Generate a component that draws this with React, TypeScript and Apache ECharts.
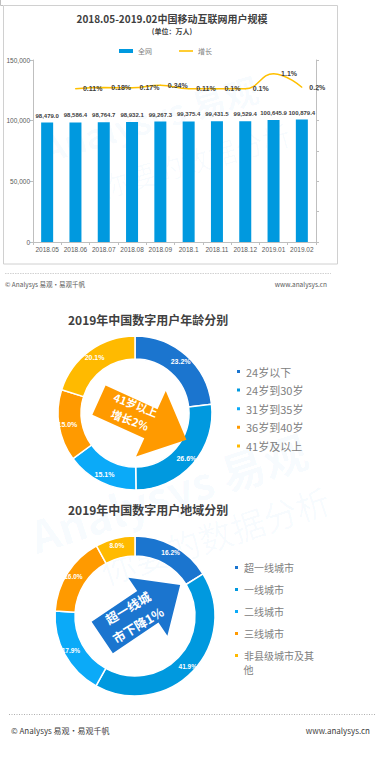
import React, { useEffect, useRef } from 'react';
import * as echarts from 'echarts';

const months = ['2018.05', '2018.06', '2018.07', '2018.08', '2018.09', '2018.1', '2018.11', '2018.12', '2019.01', '2019.02'];
const totalUsers = [98479.0, 98586.4, 98764.7, 98932.1, 99267.3, 99375.4, 99431.5, 99529.4, 100645.9, 100879.4];
const growthRate: (number | null)[] = [null, 0.11, 0.18, 0.17, 0.34, 0.11, 0.1, 0.1, 1.1, 0.2];

const ageGroups = ['24岁以下', '24岁到30岁', '31岁到35岁', '36岁到40岁', '41岁及以上'];
const ageShares = [23.2, 26.6, 15.1, 15.0, 20.1];

const regionGroups = ['超一线城市', '一线城市', '二线城市', '三线城市', '非县级城市及其他'];
const regionShares = [16.2, 41.9, 17.9, 16.0, 8.0];

const ringColors = ['#1B75CF', '#0099DF', '#0BAAF8', '#FF9A00', '#FFBA00'];
const FONT = '"Noto Sans CJK SC", "Microsoft YaHei", sans-serif';
const LATIN = '"Liberation Sans", Arial, sans-serif';
const deg = (d: number) => (d * Math.PI) / 180;

export default function App() {
  const ref = useRef<HTMLDivElement>(null);
  useEffect(() => {
    if (!ref.current) return;
    const chart = echarts.init(ref.current, undefined, { renderer: 'svg' });
    const pctFmt = (p: any) => Number(p.value).toFixed(1) + '%';
    const option: any = {
      animation: false,
      backgroundColor: '#ffffff',
      textStyle: { fontFamily: FONT },
      title: [
        {
          text: '2018.05-2019.02中国移动互联网用户规模',
          subtext: '(单位：万人)',
          left: 172, top: 12, padding: 0, itemGap: 3, textAlign: 'center',
          textStyle: { fontSize: 10, fontWeight: 'bold', color: '#404040', fontFamily: FONT, lineHeight: 12 },
          subtextStyle: { fontSize: 7, fontWeight: 'bold', color: '#404040', fontFamily: FONT, lineHeight: 8 },
        },
        {
          text: '2019年中国数字用户年龄分别', left: 68, top: 313, padding: 0,
          textStyle: { fontSize: 12, fontWeight: 'bold', color: '#404040', fontFamily: FONT },
        },
        {
          text: '2019年中国数字用户地域分别', left: 68, top: 503, padding: 0,
          textStyle: { fontSize: 12, fontWeight: 'bold', color: '#404040', fontFamily: FONT },
        },
      ],
      legend: [
        {
          data: [{ name: '全网', icon: 'rect' }, { name: '增长', icon: 'path://M0 0H14V1.6H0Z' }],
          left: 119, top: 47.5, padding: 0, itemWidth: 14, itemHeight: 4, itemGap: 27,
          textStyle: { fontSize: 7, color: '#7f7f7f' },
        },
        {
          data: ageGroups, orient: 'vertical', left: 235, top: 366, padding: 0,
          itemWidth: 5, itemHeight: 5, itemGap: 7.6, icon: 'rect',
          textStyle: { fontSize: 11, color: '#808080' },
        },
        {
          data: regionGroups, orient: 'vertical', left: 233, top: 562.5, padding: 0,
          itemWidth: 5, itemHeight: 5, itemGap: 12, icon: 'rect',
          formatter: (n: string) => (n === '非县级城市及其他' ? '非县级城市及其' : n),
          textStyle: { fontSize: 10, color: '#808080', lineHeight: 10 },
        },
      ],
      grid: { left: 33, right: 69, top: 60, height: 182, containLabel: false },
      xAxis: {
        type: 'category', data: months,
        axisLine: { lineStyle: { color: '#bfbfbf' } },
        axisTick: { show: true, length: 3, lineStyle: { color: '#bfbfbf' } },
        axisLabel: { interval: 0, fontSize: 6.5, color: '#595959', margin: 4, fontFamily: LATIN },
      },
      yAxis: [
        {
          type: 'value', min: 0, max: 150000, interval: 50000,
          axisLine: { show: true, lineStyle: { color: '#bfbfbf' } },
          axisTick: { show: true, length: 3, lineStyle: { color: '#bfbfbf' } },
          axisLabel: { fontSize: 6.5, color: '#595959', margin: 3, fontFamily: LATIN },
          splitLine: { show: false },
        },
        {
          type: 'value', min: -10, max: 2, interval: 2, position: 'right',
          axisLine: { show: true, lineStyle: { color: '#bfbfbf' } },
          axisTick: { show: true, length: 3, lineStyle: { color: '#bfbfbf' } },
          axisLabel: { show: false },
          splitLine: { show: false },
        },
      ],
      series: [
        {
          name: '全网', type: 'bar', data: totalUsers, barWidth: 12,
          itemStyle: { color: '#0099DF' },
          label: {
            show: true, position: 'top', distance: 4, fontSize: 6, color: '#404040', fontWeight: 'bold', fontFamily: LATIN,
            formatter: (p: any) => Number(p.value).toLocaleString('en-US', { minimumFractionDigits: 1, maximumFractionDigits: 1 }),
          },
          z: 3,
        },
        {
          name: '增长', type: 'line', yAxisIndex: 1, data: growthRate, smooth: 0.45,
          symbol: 'circle', symbolSize: 1, showSymbol: true,
          itemStyle: { color: '#FFC000' },
          lineStyle: { color: '#FFC000', width: 1.5 },
          label: {
            show: true, position: 'right', distance: 7, fontSize: 7, color: '#404040', fontWeight: 'bold', fontFamily: LATIN,
            formatter: (p: any) => p.value + '%',
          },
          z: 4,
        },
        {
          name: '年龄', type: 'pie', center: [135, 413], radius: [54, 77], startAngle: 90, clockwise: true,
          avoidLabelOverlap: false,
          data: ageGroups.map((n, i) => ({ name: n, value: ageShares[i], itemStyle: { color: ringColors[i] } })),
          itemStyle: { borderColor: '#ffffff', borderWidth: 1.5 },
          label: { show: true, position: 'inside', formatter: pctFmt, fontSize: 7, fontWeight: 'bold', color: '#ffffff', fontFamily: LATIN },
          labelLine: { show: false },
        },
        {
          name: '地域', type: 'pie', center: [135, 616], radius: [60, 80], startAngle: 90, clockwise: true,
          avoidLabelOverlap: false,
          data: regionGroups.map((n, i) => ({ name: n, value: regionShares[i], itemStyle: { color: ringColors[i] } })),
          itemStyle: { borderColor: '#ffffff', borderWidth: 1.5 },
          label: { show: true, position: 'inside', formatter: pctFmt, fontSize: 6.5, fontWeight: 'bold', color: '#ffffff', fontFamily: LATIN },
          labelLine: { show: false },
        },
      ],
      graphic: [
        // watermarks
        {
          type: 'text', x: 150, y: 118, rotation: deg(16), z: 0, silent: true,
          style: { text: 'Analysys 易观', font: `bold 34px ${FONT}`, fill: 'rgba(0,150,230,0.035)', align: 'center', verticalAlign: 'middle' },
        },
        {
          type: 'text', x: 195, y: 160, rotation: deg(16), z: 0, silent: true,
          style: { text: '你要的数据分析', font: `28px ${FONT}`, fill: 'rgba(0,150,230,0.03)', align: 'center', verticalAlign: 'middle' },
        },
        {
          type: 'text', x: 168, y: 492, rotation: deg(18), z: 0, silent: true,
          style: { text: 'Analysys 易观', font: `bold 44px ${FONT}`, fill: 'rgba(0,150,230,0.04)', align: 'center', verticalAlign: 'middle' },
        },
        {
          type: 'text', x: 215, y: 535, rotation: deg(18), z: 0, silent: true,
          style: { text: '你要的数据分析', font: `34px ${FONT}`, fill: 'rgba(0,150,230,0.035)', align: 'center', verticalAlign: 'middle' },
        },
        // frame of first chart
        { type: 'polyline', shape: { points: [[0.5, 0], [0.5, 5.5], [3, 5.5]] }, style: { stroke: '#bfbfbf', fill: 'none', lineWidth: 1 } },
        { type: 'rect', shape: { x: 3.5, y: 5.5, width: 334, height: 258.5 }, style: { stroke: '#d0d0d0', fill: 'none', lineWidth: 1 } },
        { type: 'line', shape: { x1: 5, y1: 273.5, x2: 331, y2: 273.5 }, style: { stroke: '#bfbfbf', lineWidth: 0.7, lineDash: [1.5, 1] } },
        { type: 'text', x: 5, y: 284, style: { text: '© Analysys 易观·易观千帆', font: `6.5px ${FONT}`, fill: '#595959', verticalAlign: 'middle' } },
        { type: 'text', x: 327, y: 284, style: { text: 'www.analysys.cn', font: `6.5px ${FONT}`, fill: '#595959', align: 'right', verticalAlign: 'middle' } },
        // arrow 1
        {
          type: 'polygon', x: 142.7, y: 420, rotation: deg(-24.4), z: 5,
          shape: { points: [[-48, -16], [9, -16], [9, -36], [48, 0], [9, 36], [9, 16], [-48, 16]] },
          style: { fill: '#FF9A00' },
        },
        {
          type: 'text', x: 133, y: 412, rotation: deg(-21), z: 6,
          style: { text: '41岁以上\n增长2%', font: `bold 11px ${FONT}`, lineHeight: 16, fill: '#ffffff', align: 'center', verticalAlign: 'middle' },
        },
        // arrow 2
        {
          type: 'polygon', x: 141.2, y: 611.2, rotation: deg(34), z: 5,
          shape: { points: [[-47, -19], [8, -19], [8, -35], [47, 0], [8, 35], [8, 19], [-47, 19]] },
          style: { fill: '#1B75CF' },
        },
        {
          type: 'text', x: 133, y: 616.5, rotation: deg(31), z: 6,
          style: { text: '超一线城\n市下降1%', font: `bold 12.5px ${FONT}`, lineHeight: 20, fill: '#ffffff', align: 'center', verticalAlign: 'middle' },
        },
        // legend second line
        { type: 'text', x: 243.5, y: 669.5, style: { text: '他', font: `10px ${FONT}`, fill: '#808080', verticalAlign: 'middle' } },
        // footer 2
        { type: 'line', shape: { x1: 9, y1: 714.5, x2: 376, y2: 714.5 }, style: { stroke: '#9a9a9a', lineWidth: 0.8, lineDash: [1, 1.5] } },
        { type: 'text', x: 11, y: 730, style: { text: '© Analysys 易观·易观千帆', font: `8px ${FONT}`, fill: '#404040', verticalAlign: 'middle' } },
        { type: 'text', x: 370, y: 730, style: { text: 'www.analysys.cn', font: `8px ${FONT}`, fill: '#404040', align: 'right', verticalAlign: 'middle' } },
      ],
    };
    chart.setOption(option);
    return () => chart.dispose();
  }, []);
  return (
    <div style={{ position: 'absolute', left: 0, top: 0, width: 385, height: 760, background: '#fff' }}>
      <div ref={ref} style={{ width: 385, height: 760 }} />
    </div>
  );
}
